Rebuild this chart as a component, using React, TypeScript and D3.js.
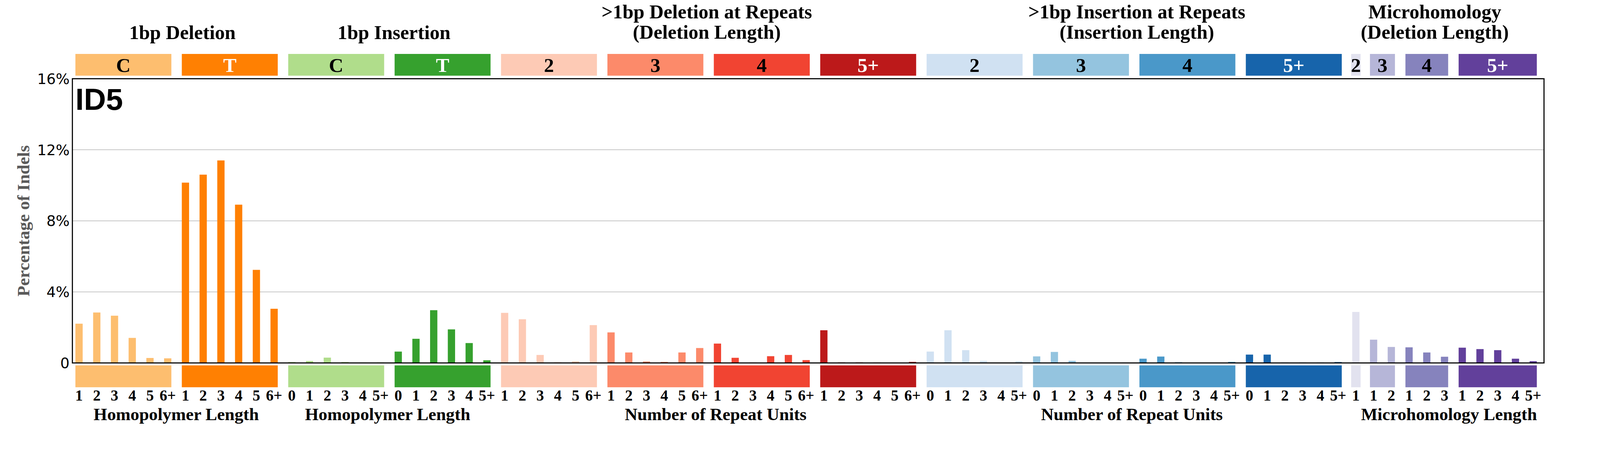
import React, { useEffect, useRef } from "react";
import * as d3 from "d3";

// ---- data (percentage of indels) ----
const delC = [2.21, 2.84, 2.66, 1.41, 0.28, 0.26];
const delT = [10.15, 10.6, 11.4, 8.91, 5.24, 3.05];
const insC = [0.05, 0.11, 0.3, 0.05, 0.02, 0.03];
const insT = [0.64, 1.36, 2.97, 1.89, 1.12, 0.15];
const delRep2 = [2.82, 2.46, 0.45, 0.04, 0.09, 2.13];
const delRep3 = [1.72, 0.59, 0.08, 0.06, 0.59, 0.84];
const delRep4 = [1.09, 0.29, 0.02, 0.38, 0.45, 0.16];
const delRep5 = [1.84, 0.03, 0.03, 0.02, 0.01, 0.06];
const insRep2 = [0.64, 1.84, 0.72, 0.12, 0.0, 0.1];
const insRep3 = [0.37, 0.62, 0.12, 0.0, 0.0, 0.02];
const insRep4 = [0.24, 0.36, 0.04, 0.0, 0.0, 0.06];
const insRep5 = [0.47, 0.47, 0.02, 0.02, 0.02, 0.05];
const mh2 = [2.87];
const mh3 = [1.31, 0.9];
const mh4 = [0.88, 0.59, 0.35];
const mh5 = [0.86, 0.78, 0.72, 0.24, 0.1];

const seriesValues = [delC, delT, insC, insT, delRep2, delRep3, delRep4, delRep5, insRep2, insRep3, insRep4, insRep5, mh2, mh3, mh4, mh5];

const subLabels = ["C", "T", "C", "T", "2", "3", "4", "5+", "2", "3", "4", "5+", "2", "3", "4", "5+"];
const subColors = [
  "#FDBE6F", "#FF8002", "#B0DD8B", "#36A12E",
  "#FDCAB5", "#FC8A6A", "#F14432", "#BC191A",
  "#D0E1F2", "#94C4DF", "#4A98C9", "#1764AB",
  "#E2E2EF", "#B6B6D8", "#8683BD", "#62409B",
];
const subLabelColors = [
  "black", "white", "black", "white",
  "black", "black", "black", "white",
  "black", "black", "black", "white",
  "black", "black", "black", "white",
];

const homDel = ["1", "2", "3", "4", "5", "6+"];
const homIns = ["0", "1", "2", "3", "4", "5+"];
const subTicks = [
  homDel, homDel, homIns, homIns,
  homDel, homDel, homDel, homDel,
  homIns, homIns, homIns, homIns,
  ["1"], ["1", "2"], ["1", "2", "3"], ["1", "2", "3", "4", "5+"],
];

const titleLines = [
  ["1bp Deletion"],
  ["1bp Insertion"],
  [">1bp Deletion at Repeats", "(Deletion Length)"],
  [">1bp Insertion at Repeats", "(Insertion Length)"],
  ["Microhomology", "(Deletion Length)"],
];
const titleAnchor = [5.83, 17.76, 35.4, 59.65, 76.45];

const xLabels = ["Homopolymer Length", "Homopolymer Length", "Number of Repeat Units", "Number of Repeat Units", "Microhomology Length"];
const xLabelAnchor = [5.48, 17.4, 35.9, 59.37, 77.25];

const yTicks = [0, 4, 8, 12, 16];
const yTickLabels = ["0", "4%", "8%", "12%", "16%"];

const W = 4393;
const H = 1200;
const SERIF = "'Times New Roman', 'Liberation Serif', serif";

export default function App() {
  const ref = useRef<SVGSVGElement | null>(null);

  useEffect(() => {
    document.body.style.margin = "0";
    document.body.style.overflow = "hidden";
    const svg = d3.select(ref.current);
    svg.selectAll("*").remove();

    const bars: { v: number; sub: number; tick: string; i: number }[] = [];
    const subRanges: { first: number; last: number }[] = [];
    let k = 0;
    seriesValues.forEach((arr, s) => {
      const first = k;
      arr.forEach((v, j) => {
        bars.push({ v, sub: s, tick: subTicks[s][j], i: k });
        k++;
      });
      subRanges.push({ first, last: k - 1 });
    });

    const x = d3.scaleLinear().domain([-0.376, 82.61]).range([198.7, 4239.3]);
    const y = d3.scaleLinear().domain([0, 16]).range([996, 216]);
    const step = x(1) - x(0);
    const bw = step * 0.41;

    svg.append("rect").attr("x", 0).attr("y", 0).attr("width", W).attr("height", H).attr("fill", "white");

    // gridlines
    svg.append("g")
      .selectAll("line")
      .data(yTicks.filter((t) => t > 0 && t < 16))
      .join("line")
      .attr("x1", x.range()[0])
      .attr("x2", x.range()[1])
      .attr("y1", (d) => y(d))
      .attr("y2", (d) => y(d))
      .attr("stroke", "#a6a6a6")
      .attr("stroke-width", 1.3);

    // bars
    svg.append("g")
      .selectAll("rect")
      .data(bars)
      .join("rect")
      .attr("x", (d) => x(d.i) - bw / 2)
      .attr("width", bw)
      .attr("y", (d) => y(d.v))
      .attr("height", (d) => y(0) - y(d.v))
      .attr("fill", (d) => subColors[d.sub]);

    // frame
    svg.append("rect")
      .attr("x", x.range()[0])
      .attr("y", y(16))
      .attr("width", x.range()[1] - x.range()[0])
      .attr("height", y(0) - y(16))
      .attr("fill", "none")
      .attr("stroke", "black")
      .attr("stroke-width", 3);

    // category boxes (top and bottom)
    const boxX = (r: { first: number; last: number }) => {
      let x0 = x(r.first) - bw / 2;
      let x1 = x(r.last) + bw / 2;
      const w = x1 - x0;
      if (w < 26) {
        const pad = (26 - w) / 2;
        x0 -= pad;
        x1 += pad;
      }
      return [x0, x1];
    };
    const boxes = svg.append("g");
    subRanges.forEach((r, s) => {
      const [x0, x1] = boxX(r);
      boxes.append("rect").attr("x", x0).attr("y", 148).attr("width", x1 - x0).attr("height", 59.7).attr("fill", subColors[s]);
      boxes.append("rect").attr("x", x0).attr("y", 1002.7).attr("width", x1 - x0).attr("height", 60).attr("fill", subColors[s]);
      boxes.append("text")
        .attr("x", (x0 + x1) / 2)
        .attr("y", 197)
        .attr("text-anchor", "middle")
        .attr("font-family", SERIF)
        .attr("font-weight", "bold")
        .attr("font-size", 55)
        .attr("fill", subLabelColors[s])
        .text(subLabels[s]);
    });

    // tick labels under bars
    svg.append("g")
      .selectAll("text")
      .data(bars)
      .join("text")
      .attr("x", (d) => x(d.i))
      .attr("y", 1099)
      .attr("text-anchor", "middle")
      .attr("font-family", SERIF)
      .attr("font-weight", "bold")
      .attr("font-size", 42)
      .attr("fill", "black")
      .text((d) => d.tick);

    // x group labels
    svg.append("g")
      .selectAll("text")
      .data(xLabels)
      .join("text")
      .attr("x", (_d, i) => x(xLabelAnchor[i]))
      .attr("y", 1153)
      .attr("text-anchor", "middle")
      .attr("font-family", SERIF)
      .attr("font-weight", "bold")
      .attr("font-size", 48)
      .attr("fill", "black")
      .text((d) => d);

    // titles
    const tg = svg.append("g");
    titleLines.forEach((lines, i) => {
      const baselines = lines.length === 1 ? [107] : [50, 106];
      lines.forEach((ln, j) => {
        tg.append("text")
          .attr("x", x(titleAnchor[i]))
          .attr("y", baselines[j])
          .attr("text-anchor", "middle")
          .attr("font-family", SERIF)
          .attr("font-weight", "bold")
          .attr("font-size", 54)
          .attr("fill", "black")
          .text(ln);
      });
    });

    // y tick labels
    svg.append("g")
      .selectAll("text")
      .data(yTicks)
      .join("text")
      .attr("x", 191)
      .attr("y", (d) => y(d))
      .attr("dy", "0.36em")
      .attr("text-anchor", "end")
      .attr("font-family", "'DejaVu Sans', sans-serif")
      .attr("font-size", 40)
      .attr("fill", "black")
      .text((_d, i) => yTickLabels[i]);

    // y axis title
    svg.append("text")
      .attr("transform", `translate(80, ${y(8)}) rotate(-90)`)
      .attr("text-anchor", "middle")
      .attr("font-family", SERIF)
      .attr("font-weight", "bold")
      .attr("font-size", 48)
      .attr("fill", "#5a5a5a")
      .text("Percentage of Indels");

    // signature name
    svg.append("text")
      .attr("x", 207)
      .attr("y", 301)
      .attr("font-family", "'Liberation Sans', Arial, sans-serif")
      .attr("font-weight", "bold")
      .attr("font-size", 84)
      .attr("fill", "black")
      .text("ID5");
  }, []);

  return (
    <svg
      ref={ref}
      viewBox={`0 0 ${W} ${H}`}
      style={{
        position: "absolute",
        left: 0,
        top: 0,
        width: "100vw",
        height: "auto",
        aspectRatio: `${W} / ${H}`,
        display: "block",
      }}
    />
  );
}
